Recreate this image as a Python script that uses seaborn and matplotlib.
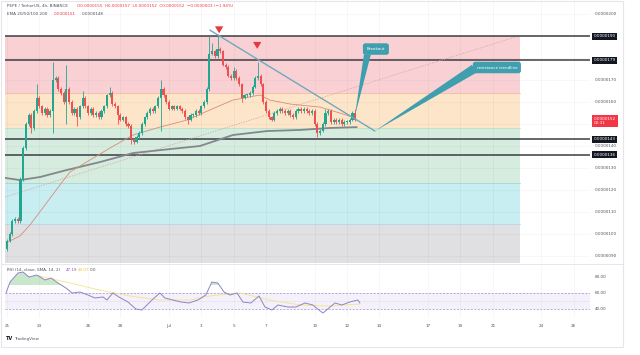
import numpy as np
import pandas as pd
import matplotlib
matplotlib.use("Agg")
import matplotlib.pyplot as plt
import matplotlib.transforms as mtrans
from matplotlib.patches import Polygon, Rectangle
import seaborn as sns

sns.set_style("white")
plt.rcParams['font.family'] = ['DejaVu Sans']

# ---------------- data (prices in units of 1e-7 USDT, x in days since Jun 21) ----
closes = [97, 100, 106, 107, 106, 125, 139, 150, 154, 148,
          156, 162, 158, 155, 157, 154, 156, 170, 171, 166,
          164, 160, 166, 160, 155, 157, 153, 158, 162, 158,
          155, 157, 154, 155, 153, 156, 158, 163, 164, 159,
          158, 154, 152, 153, 150, 149, 143, 142, 144, 146,
          150, 153, 155, 157, 156, 158, 162, 166, 163, 160,
          157, 158, 157, 158, 157, 156, 153, 152, 154, 154,
          156, 155, 158, 160, 166, 182, 183, 181, 184, 183,
          177, 176, 172, 171, 174, 171, 168, 162, 163, 163,
          164, 167, 171, 172, 168, 160, 156, 153, 152, 155,
          156, 157, 156, 155, 156, 154, 153, 156, 157, 156,
          157, 156, 155, 156, 150, 146, 147, 150, 155, 156,
          151, 152, 151, 152, 150, 151, 151, 152, 155, 152]
first_open = 93
high_wicks = {11: 168, 17: 178, 22: 177, 28: 165, 38: 167, 57: 170, 75: 190,
              76: 187, 78: 191, 84: 176, 93: 178, 118: 157, 129: 157}
low_wicks = {5: 105, 9: 146, 17: 146, 22: 150, 26: 149, 41: 150, 46: 141,
             47: 141, 57: 147, 67: 150, 87: 160, 115: 144, 120: 150}
min_wick = 0.8

ema_fast_d = [0.06, 0.8, 1.42, 2.35, 3.27, 3.89, 5.12, 6.36, 7.78, 9.44, 11.11,
              12.53, 13.95, 15.62, 16.23, 17.47, 19.32, 20.56, 21.54]
ema_fast_p = [96.4, 99.1, 104.1, 113.2, 122.3, 128.2, 133.6, 139.1, 145.0, 148.6, 151.8,
              156.4, 160.9, 163.2, 160.9, 159.1, 157.7, 155.0, 152.7]
ema_slow_d = [-0.12, 0.8, 2.04, 3.7, 5.74, 7.78, 10.06, 11.91, 13.95, 16.05, 18.09, 19.94, 21.6]
ema_slow_p = [125.5, 124.5, 125.9, 129.1, 132.7, 136.8, 138.6, 140.0, 145.0, 146.8, 147.3, 148.2, 148.6]

rsi_d = [-0.06, 0.19, 0.68, 0.99, 1.36, 1.85, 2.35, 2.72, 3.15, 3.64, 4.01, 4.51, 5.0,
         5.43, 5.93, 6.17, 6.54, 6.91, 7.47, 7.96, 8.33, 8.95, 9.44, 9.75, 10.25, 10.74,
         11.23, 11.79, 12.28, 12.65, 13.02, 13.4, 13.77, 14.2, 14.57, 15.06, 15.56, 15.93,
         16.36, 16.73, 17.35, 17.84, 18.4, 18.89, 19.26, 19.51, 19.88, 20.25, 20.68, 21.17,
         21.67, 21.79]
rsi_v = [60, 73.75, 85, 86.25, 80, 82.5, 76.25, 78.75, 72.5, 66.25, 60, 61.25, 57.5,
         53.75, 55, 51.25, 60, 55, 48.75, 40, 38.75, 51.25, 60, 53.75, 51.25, 48.75,
         47.5, 51.25, 57.5, 73.75, 72.5, 61.25, 57.5, 60, 48.75, 47.5, 56.25, 42.5,
         38.75, 45, 42.5, 42.5, 47.5, 45, 38.75, 35, 41.25, 47.5, 45, 48.75,
         51.25, 47.5]
rsi_sma_d = [2.0, 3.9, 5.7, 7.6, 9.4, 11.3, 12.5, 14.4, 16.2, 18.1, 19.9, 21.8]
rsi_sma_v = [81.25, 72.5, 63.75, 56.25, 51.25, 51.25, 56.25, 60, 51.25, 45, 43.75, 46.25]

zone_edges = [190, 164, 148.2, 123.2, 104.5, 86.8]
zone_colors = ['#f9d1d4', '#fde5c9', '#d5ecdf', '#c8eef2', '#e0e0e2']
level_lines = [190, 179, 143, 136]
price_ticks = [200, 170, 160, 140, 130, 120, 110, 100, 90]
last_price = 152

date_ticks = [0, 2, 5, 7, 10, 12, 14, 16, 19, 21, 23, 26, 28, 30, 33, 35]
date_labels = ['21', '23', '26', '28', 'Jul', '3', '5', '7', '10', '12', '14',
               '17', '19', '21', '24', '26']
rsi_ticks = [80, 60, 40]

# drawings (days, price)
trend_line = [(12.53, 192.7), (22.72, 146.8)]
diag_line = [(-0.12, 116.8), (31.36, 189.5)]
arrows = [(13.1, 194.3, 190.0), (15.45, 187.9, 182.9)]
breakout_box = (22.78, 184.1)
breakout_wedge = [(22.04, 181.6), (22.47, 181.6), (21.48, 153.6)]
resist_box = (30.25, 175.7)
resist_wedge = [(28.7, 176.9), (29.05, 173.6), (22.72, 146.8)]

# ---------------- figure ----------------
W, H = 640, 355
fig = plt.figure(figsize=(6.4, 3.55), dpi=100)
fig.patch.set_facecolor('white')
def fx(px): return px / W
def fy(py): return 1 - py / H

fig.add_artist(Rectangle((fx(1), fy(347)), fx(622), fy(1) - fy(347), transform=fig.transFigure,
                         fill=False, ec='#e6e6ea', lw=0.8))

ax = fig.add_axes([fx(5), fy(263), fx(590) - fx(5), fy(0) - fy(263)])
XL = (-0.123, 36.0)
ax.set_xlim(*XL)
ax.set_ylim(86.8, 206.4)
for s in ax.spines.values():
    s.set_visible(False)
ax.set_xticks([]); ax.set_yticks([])

zone_right = (520 - 5) / 585
for i, c in enumerate(zone_colors):
    ax.axhspan(zone_edges[i + 1], zone_edges[i], xmin=0, xmax=zone_right, color=c, lw=0, zorder=0)
for e, c in zip(zone_edges[1:-1], ['#f3b9a0', '#bfe0c6', '#9fd9d4', '#b8d5e6']):
    ax.plot([XL[0], XL[0] + zone_right * (XL[1] - XL[0])], [e, e], color=c, lw=0.6, zorder=0.5)

# faint grid
for t in date_ticks:
    ax.axvline(t, color='#000000', alpha=0.035, lw=0.6, zorder=0.6)
for p in price_ticks + [190, 180, 150]:
    ax.axhline(p, color='#000000', alpha=0.03, lw=0.6, zorder=0.6)

# level lines
for lv in level_lines:
    ax.axhline(lv, color='#3a3d45', lw=1.1, zorder=2)

# dotted diagonal
sns.lineplot(x=[diag_line[0][0], diag_line[1][0]], y=[diag_line[0][1], diag_line[1][1]],
             ax=ax, color='#d8a7a7', lw=0.6, linestyle=(0, (1.5, 1.5)), zorder=2)

# EMAs
sns.lineplot(x=ema_slow_d, y=ema_slow_p, ax=ax, color='#85878c', lw=1.3, zorder=3)
sns.lineplot(x=ema_fast_d, y=ema_fast_p, ax=ax, color='#d98c7a', lw=0.6, zorder=3)

# candles
n = len(closes)
opens = [first_open] + closes[:-1]
xs = np.arange(n) / 6.0
for i in range(n):
    o, c = opens[i], closes[i]
    hi = high_wicks.get(i, max(o, c) + min_wick)
    lo = low_wicks.get(i, min(o, c) - min_wick)
    col = '#22a68f' if c >= o else '#ef4f4f'
    ax.vlines(xs[i], lo, hi, color=col, lw=0.6, zorder=4)
    ax.bar(xs[i], max(abs(c - o), 0.5), bottom=min(o, c), width=0.13, color=col, lw=0, zorder=4)

# trend line
sns.lineplot(x=[trend_line[0][0], trend_line[1][0]], y=[trend_line[0][1], trend_line[1][1]],
             ax=ax, color='#6fa9bd', lw=1.0, zorder=5)

# red arrows
for d, p0, p1 in arrows:
    ax.annotate('', xy=(d, p1), xytext=(d, p0),
                arrowprops=dict(arrowstyle='simple,head_width=0.6,head_length=0.5,tail_width=0.3',
                                color='#e23b3b', lw=0), zorder=6)

# callouts
callout_c = '#3f9fae'
ax.add_patch(Polygon(breakout_wedge, closed=True, fc=callout_c, ec='none', zorder=6))
ax.add_patch(Polygon(resist_wedge, closed=True, fc=callout_c, ec='none', zorder=6))
ax.text(*breakout_box, 'Breakout', fontsize=3, color='white', ha='center', va='center', zorder=7,
        bbox=dict(boxstyle='round,pad=0.9,rounding_size=0.6', fc=callout_c, ec='none'))
ax.text(*resist_box, 'resistance trendline', fontsize=3, color='white', ha='center', va='center',
        zorder=7, bbox=dict(boxstyle='round,pad=0.9,rounding_size=0.6', fc=callout_c, ec='none'))

# price scale labels
tr = mtrans.blended_transform_factory(ax.transAxes, ax.transData)
for p in price_ticks:
    ax.text(1.008, p, '0.0000%03d' % p, transform=tr, fontsize=3, color='#50535e',
            ha='left', va='center', clip_on=False)
for lv in level_lines:
    ax.text(1.006, lv, '0.0000%03d' % lv, transform=tr, fontsize=3, color='white', ha='left',
            va='center', clip_on=False,
            bbox=dict(boxstyle='square,pad=0.35', fc='#131722', ec='none'))
ax.text(1.006, last_price + 1.3, '0.0000%03d\n02:31' % last_price, transform=tr, fontsize=3,
        color='white', ha='left', va='top', clip_on=False, linespacing=1.1,
        bbox=dict(boxstyle='square,pad=0.45', fc='#f23645', ec='none'))

# legend texts
tf = fig.transFigure
fig.text(fx(7), fy(6), 'PEPE / TetherUS, 4h, BINANCE', fontsize=3, color='#50535e', va='center')
fig.text(fx(77), fy(6), 'O0.0000155  H0.0000157  L0.0000152  C0.0000152  \u22120.0000003 (\u22121.94%)',
         fontsize=3, color='#f23645', va='center')
fig.text(fx(7), fy(14), 'EMA 20/50/100 200', fontsize=3, color='#50535e', va='center')
fig.text(fx(54), fy(14), '0.0000151', fontsize=3, color='#f23645', va='center')
fig.text(fx(82), fy(14), '0.0000148', fontsize=3, color='#50535e', va='center')

# separator
fig.add_artist(plt.Line2D([fx(1), fx(623)], [fy(264), fy(264)], transform=tf, color='#e0e3eb', lw=0.6))

# ---------------- RSI pane ----------------
ax2 = fig.add_axes([fx(5), fy(318), fx(590) - fx(5), fy(265) - fy(318)])
ax2.set_xlim(*XL)
ax2.set_ylim(28.75, 95)
for s in ax2.spines.values():
    s.set_visible(False)
for t in date_ticks:
    ax2.axvline(t, color='#000000', alpha=0.035, lw=0.6, zorder=0)
ax2.axhspan(40, 60, color='#7e57c2', alpha=0.08, lw=0, zorder=0)
ax2.axhline(60, color='#9c8fcf', lw=0.5, ls=(0, (3, 2)), zorder=1)
ax2.axhline(40, color='#9c8fcf', lw=0.5, ls=(0, (3, 2)), zorder=1)
ax2.axhline(50, color='#9c8fcf', lw=0.4, ls=(0, (1, 2)), alpha=0.6, zorder=1)
rv = np.array(rsi_v, dtype=float)
ax2.fill_between(rsi_d, 70, rv, where=rv > 70, interpolate=True, color='#66bb6a', alpha=0.35, lw=0)
sns.lineplot(x=rsi_sma_d, y=rsi_sma_v, ax=ax2, color='#f3e27a', lw=0.6, alpha=0.9, zorder=2)
sns.lineplot(x=rsi_d, y=rsi_v, ax=ax2, color='#8f84c4', lw=0.7, zorder=3)
ax2.set_yticks([])
ax2.set_xticks(date_ticks)
ax2.set_xticklabels(date_labels)
ax2.tick_params(axis='x', length=0, pad=4, labelsize=3, labelcolor='#50535e')
ax2.set_xlabel(''); ax2.set_ylabel('')
tr2 = mtrans.blended_transform_factory(ax2.transAxes, ax2.transData)
for v in rsi_ticks:
    ax2.text(1.008, v, '%.2f' % v, transform=tr2, fontsize=3, color='#50535e', ha='left',
             va='center', clip_on=False)
fig.text(fx(7), fy(270), 'RSI (14, close, SMA, 14, 2)', fontsize=3, color='#50535e', va='center')
fig.text(fx(66), fy(270), '47.19', fontsize=3, color='#7e57c2', va='center')
fig.text(fx(78), fy(270), '49.07', fontsize=3, color='#e8c930', va='center')
fig.text(fx(90), fy(270), '0.0', fontsize=3, color='#50535e', va='center')

# TradingView mark
fig.text(fx(6), fy(339), 'TV', fontsize=3.6, color='#131722', weight='bold', va='center')
fig.text(fx(14), fy(339), 'TradingView', fontsize=3, color='#50535e', va='center')

fig.savefig('out.png', dpi=100, facecolor='white')
